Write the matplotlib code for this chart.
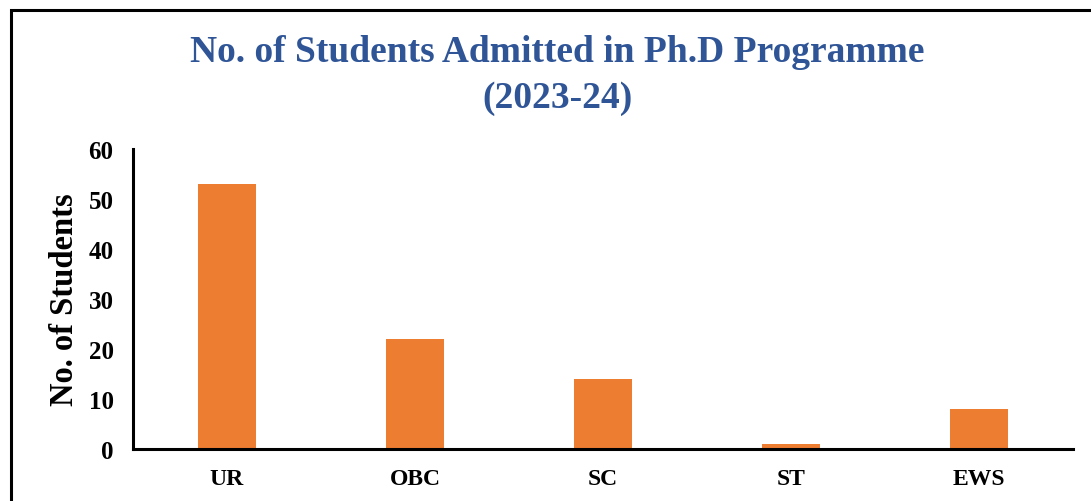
import matplotlib.pyplot as plt
from matplotlib.patches import Rectangle

categories = ["UR", "OBC", "SC", "ST", "EWS"]
students = [53, 22, 14, 1, 8]
y_ticks = [0, 10, 20, 30, 40, 50, 60]

plt.rcParams['font.family'] = ['Liberation Serif', 'DejaVu Serif']
plt.rcParams['font.weight'] = 'bold'

fig = plt.figure(figsize=(10.91, 5.02), dpi=100)
W, H = 1091, 502

# outer frame (cropped box)
fig.patches.append(Rectangle((11 / W, -0.1), 1.2, 1 - 11 / H + 0.1, transform=fig.transFigure,
                             fill=False, edgecolor='black', linewidth=2.2))

ax = fig.add_axes([133 / W, 1 - 450 / H, 940 / W, 300 / H])
x = range(len(categories))
ax.bar(x, students, width=0.31, color='#ED7D31')

ax.set_xlim(-0.5, 4.5)
ax.set_ylim(0, 60)
ax.set_yticks(y_ticks)
ax.set_xticks(list(x))
ax.set_xticklabels(categories, fontsize=17, fontweight='bold')
ax.set_yticklabels(y_ticks, fontsize=18, fontweight='bold')
ax.tick_params(length=0, pad=14)
ax.tick_params(axis='x', pad=14)

for s in ['top', 'right']:
    ax.spines[s].set_visible(False)
for s in ['left', 'bottom']:
    ax.spines[s].set_linewidth(2.2)

ax.set_ylabel("No. of Students", fontsize=23.5, fontweight='bold', labelpad=6)

title_color = '#2F5597'
fig.text(557 / W, 1 - 53 / H, "No. of Students Admitted in Ph.D Programme",
         ha='center', va='center', fontsize=27, fontweight='bold', color=title_color)
fig.text(557 / W, 1 - 98 / H, "(2023-24)",
         ha='center', va='center', fontsize=27, fontweight='bold', color=title_color)

plt.savefig("out.png", dpi=100)
